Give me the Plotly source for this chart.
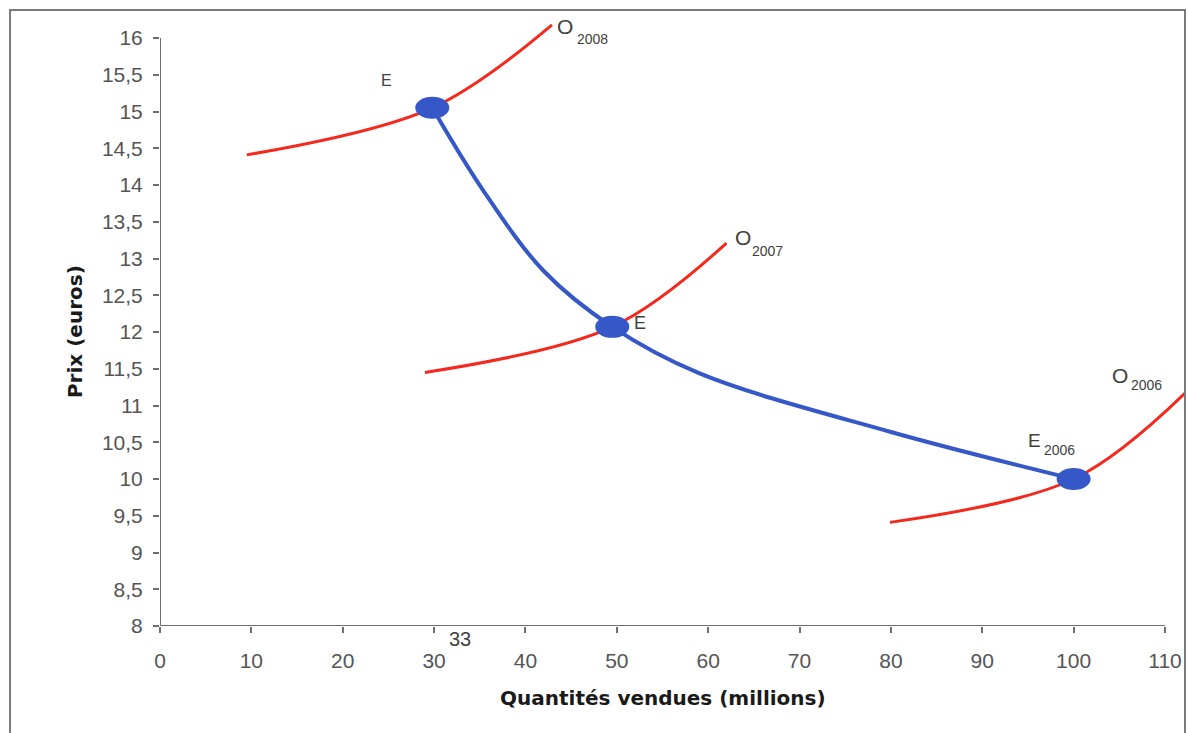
import plotly.graph_objects as go

# Supply curves (offre) for each year: quantity in millions, price in euros
o2008_q = [9.5, 29.8, 42.9]
o2008_p = [14.41, 15.05, 16.18]

o2007_q = [29.0, 49.5, 62.0]
o2007_p = [11.45, 12.07, 13.21]

o2006_q = [79.9, 100.0, 112.2]
o2006_p = [9.41, 10.0, 11.17]

# Path linking the equilibria (2008 -> 2007 -> 2006)
path_q = [29.8, 35.35, 42.0, 49.5, 59.0, 80.0, 100.0]
path_p = [15.05, 13.93, 12.83, 12.07, 11.44, 10.64, 10.0]

# Equilibrium points
eq_q = [29.8, 49.5, 100.0]
eq_p = [15.05, 12.07, 10.0]

# Axis ticks
x_ticks = [0, 10, 20, 30, 40, 50, 60, 70, 80, 90, 100, 110]
y_ticks = [8, 8.5, 9, 9.5, 10, 10.5, 11, 11.5, 12, 12.5, 13, 13.5, 14, 14.5, 15, 15.5, 16]
y_tick_text = [f"{v:g}".replace(".", ",") for v in y_ticks]

RED = "#f5281e"
BLUE = "#3557c8"
AXIS = "#6e6e6e"
TXT = "#404040"
TICK_TXT = "#555555"
FONT = "Liberation Sans, Arial, sans-serif"
TITLE_FONT = "DejaVu Sans, Verdana, sans-serif"

fig = go.Figure()

for q, p in [(o2008_q, o2008_p), (o2007_q, o2007_p), (o2006_q, o2006_p)]:
    fig.add_trace(go.Scatter(x=q, y=p, mode="lines",
                             line=dict(color=RED, width=3, shape="spline", smoothing=1.0),
                             hoverinfo="skip", showlegend=False))

fig.add_trace(go.Scatter(x=path_q, y=path_p, mode="lines",
                         line=dict(color=BLUE, width=4, shape="spline", smoothing=1.0),
                         hoverinfo="skip", showlegend=False))

shapes = []
# Axis lines stop at the last tick
shapes.append(dict(type="line", xref="x", yref="y", x0=0, x1=110, y0=8, y1=8,
                   line=dict(color=AXIS, width=2), layer="above"))
shapes.append(dict(type="line", xref="x", yref="y", x0=0, x1=0, y0=8, y1=16,
                   line=dict(color=AXIS, width=2), layer="above"))
# Equilibrium markers (ellipses)
for q, p in zip(eq_q, eq_p):
    shapes.append(dict(type="circle", xref="x", yref="y", xsizemode="pixel", ysizemode="pixel",
                       xanchor=q, yanchor=p, x0=-17, x1=17, y0=-11, y1=11,
                       fillcolor=BLUE, line=dict(color=BLUE, width=0), layer="above"))
# Outer frame
shapes.append(dict(type="rect", xref="paper", yref="paper", x0=-0.1463, x1=1.0, y0=-0.4, y1=1.0033,
                   line=dict(color="#7a7a7a", width=2), fillcolor="rgba(0,0,0,0)", layer="above"))


def label(x, y, text, size, xshift=0, yshift=0):
    return dict(x=x, y=y, text=text, font=dict(size=size, color=TXT, family=FONT),
                xref="x", yref="y", showarrow=False, xanchor="center", yanchor="middle",
                xshift=xshift, yshift=yshift)


annotations = [
    label(24.74, 15.42, "E", 16),
    label(52.54, 12.12, "E", 18),
    # E2006
    label(95.77, 10.52, "E", 19),
    label(95.77, 10.52, "2006", 14, xshift=25, yshift=-9),
    # O2008
    label(44.33, 16.15, "O", 21),
    label(44.33, 16.15, "2008", 14, xshift=27, yshift=-12),
    # O2007
    label(63.81, 13.28, "O", 21),
    label(63.81, 13.28, "2007", 14, xshift=25, yshift=-13),
    # O2006
    label(105.08, 11.415, "O", 21),
    label(105.08, 11.415, "2006", 14, xshift=26, yshift=-10),
    # quantity marker under the axis
    label(32.84, 8, "33", 20, yshift=-13),
    # axis titles, centred on the tick spans
    dict(x=55, y=-0.1173, xref="x", yref="paper", showarrow=False,
         text="<b>Quantités vendues (millions)</b>", xanchor="center", yanchor="middle",
         font=dict(size=20, color="#1a1a1a", family=TITLE_FONT)),
    dict(x=-0.0829, y=12.0, xref="paper", yref="y", showarrow=False, textangle=-90,
         text="<b>Prix (euros)</b>", xanchor="center", yanchor="middle",
         font=dict(size=20, color="#1a1a1a", family=TITLE_FONT)),
]

fig.update_layout(
    width=1188, height=733,
    margin=dict(l=160, r=3, t=12, b=107),
    paper_bgcolor="white", plot_bgcolor="white",
    font=dict(family=FONT, color=TXT),
    shapes=shapes, annotations=annotations,
    xaxis=dict(range=[0, 112.19], tickvals=x_ticks, ticks="outside", ticklen=6, tickwidth=2,
               tickcolor=AXIS, showline=False, showgrid=False, zeroline=False,
               ticklabelstandoff=10,
               tickfont=dict(size=21, color=TICK_TXT, family=FONT)),
    yaxis=dict(range=[8, 16.354], tickvals=y_ticks, ticktext=y_tick_text, ticks="outside",
               ticklen=6, tickwidth=2, tickcolor=AXIS, showline=False, showgrid=False,
               zeroline=False, ticklabelstandoff=6,
               tickfont=dict(size=21, color=TICK_TXT, family=FONT)),
)

fig.write_html("out.html")
